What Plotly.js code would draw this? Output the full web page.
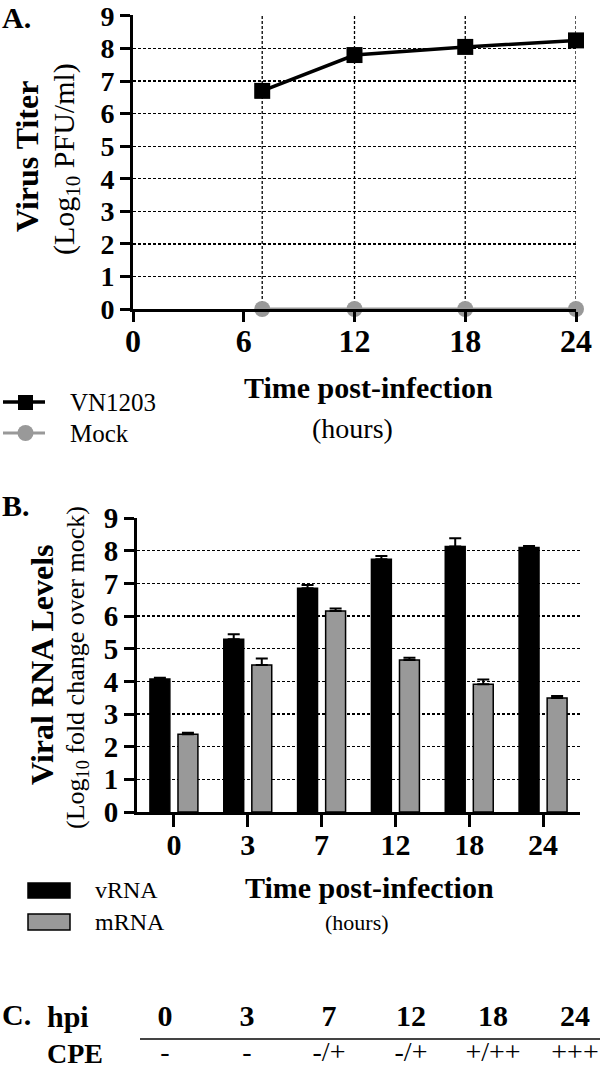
<!DOCTYPE html>
<html>
<head>
<meta charset="utf-8">
<script src="https://cdn.plot.ly/plotly-3.0.1.min.js"></script>
<style>
html,body{margin:0;padding:0;background:#fff;}
#chart{width:600px;height:1072px;}
</style>
</head>
<body>
<div id="chart"></div>
<script>
// ---- Panel A data ----
const hoursA = [7, 12, 18, 24];
const vn1203 = [6.7, 7.8, 8.05, 8.25];
const mock = [0, 0, 0, 0];
const xTicksA = [0, 6, 12, 18, 24];
const yTicks = [0, 1, 2, 3, 4, 5, 6, 7, 8, 9];

// ---- Panel B data ----
const hoursB = ['0', '3', '7', '12', '18', '24'];
const vRNA = [4.07, 5.29, 6.85, 7.74, 8.13, 8.10];
const vRNAerr = [0.04, 0.15, 0.10, 0.10, 0.25, 0.04];
const mRNA = [2.38, 4.50, 6.15, 4.65, 3.91, 3.49];
const mRNAerr = [0.05, 0.20, 0.08, 0.07, 0.15, 0.06];

// ---- Panel C data ----
const hpiLabels = ['0', '3', '7', '12', '18', '24'];
const cpeValues = ['-', '-', '-/+', '-/+', '+/++', '+++'];

const W = 600, H = 1072;
const px = x => x / W;
const py = y => 1 - y / H;
const FONT = 'Liberation Serif';
const GRAY = '#999999';

const traces = [
  {
    x: hoursA, y: vn1203, name: 'VN1203', type: 'scatter', mode: 'lines+markers',
    xaxis: 'x', yaxis: 'y', cliponaxis: false,
    line: {color: '#000', width: 3.5},
    marker: {symbol: 'square', size: 16, color: '#000'},
    showlegend: false
  },
  {
    x: hoursA, y: mock, name: 'Mock', type: 'scatter', mode: 'lines+markers',
    xaxis: 'x', yaxis: 'y', cliponaxis: false,
    line: {color: GRAY, width: 3},
    marker: {symbol: 'circle', size: 16, color: GRAY},
    showlegend: false
  },
  {
    x: hoursB, y: vRNA, name: 'vRNA', type: 'bar', xaxis: 'x2', yaxis: 'y2',
    marker: {color: '#000', line: {color: '#000', width: 1.5}},
    error_y: {type: 'data', symmetric: false, array: vRNAerr, arrayminus: vRNA.map(() => 0),
              color: '#000', thickness: 2, width: 6},
    showlegend: false
  },
  {
    x: hoursB, y: mRNA, name: 'mRNA', type: 'bar', xaxis: 'x2', yaxis: 'y2',
    marker: {color: GRAY, line: {color: '#000', width: 1.5}},
    error_y: {type: 'data', symmetric: false, array: mRNAerr, arrayminus: mRNA.map(() => 0),
              color: '#000', thickness: 2, width: 6},
    showlegend: false
  },
  {
    x: hpiLabels.map((_, i) => i), y: hpiLabels.map(() => 1), text: hpiLabels,
    type: 'scatter', mode: 'text', xaxis: 'x4', yaxis: 'y4', cliponaxis: false,
    textfont: {family: FONT, size: 30, color: '#000', weight: 'bold'},
    showlegend: false, hoverinfo: 'skip'
  },
  {
    x: cpeValues.map((_, i) => i), y: cpeValues.map(() => 0), text: cpeValues,
    type: 'scatter', mode: 'text', xaxis: 'x4', yaxis: 'y4', cliponaxis: false,
    textfont: {family: FONT, size: 28, color: '#000'},
    showlegend: false, hoverinfo: 'skip'
  }
];

const gridStyle = {showgrid: true, gridcolor: '#000', gridwidth: 1.3, griddash: '3px,2px'};
const axisLine = {showline: true, linecolor: '#000', linewidth: 3, ticks: 'outside',
                  tickcolor: '#000', tickwidth: 3, zeroline: false};

// vertical dashed gridlines of panel A sit at the sampled time points
const vGrid = hoursA.map(h => ({
  type: 'line', xref: 'x', yref: 'y', x0: h, x1: h, y0: 0, y1: 9, layer: 'below',
  line: {color: '#000', width: 1.3, dash: '3px,2px'}
}));

// legend keys (drawn as shapes, labelled with the trace names)
const legendKeys = [
  {type: 'line', xref: 'paper', yref: 'paper', x0: px(3), x1: px(45), y0: py(402), y1: py(402),
   line: {color: '#000', width: 3.5}},
  {type: 'rect', xref: 'paper', yref: 'paper', x0: px(18), x1: px(33), y0: py(395), y1: py(410),
   fillcolor: '#000', line: {width: 0}},
  {type: 'line', xref: 'paper', yref: 'paper', x0: px(3), x1: px(45), y0: py(433), y1: py(433),
   line: {color: GRAY, width: 3}},
  {type: 'circle', xref: 'paper', yref: 'paper', x0: px(17.5), x1: px(33.5), y0: py(425), y1: py(441),
   fillcolor: GRAY, line: {width: 0}},
  {type: 'rect', xref: 'paper', yref: 'paper', x0: px(28), x1: px(70), y0: py(883), y1: py(898),
   fillcolor: '#000', line: {color: '#000', width: 1.5}},
  {type: 'rect', xref: 'paper', yref: 'paper', x0: px(28), x1: px(70), y0: py(914), y1: py(930),
   fillcolor: GRAY, line: {color: '#000', width: 1.5}}
];

const layout = {
  width: W, height: H,
  margin: {l: 0, r: 0, t: 0, b: 0},
  paper_bgcolor: '#fff', plot_bgcolor: 'rgba(0,0,0,0)',
  font: {family: FONT, color: '#000'},
  showlegend: false,
  bargap: 0.24, bargroupgap: 0.29, barmode: 'group',
  xaxis: Object.assign({}, axisLine, {
    domain: [px(133), px(576)], anchor: 'y', range: [0, 24],
    tickmode: 'array', tickvals: xTicksA, ticktext: xTicksA.map(String),
    ticklen: 10, showgrid: false, ticklabelstandoff: -8, ticklabeloverflow: 'allow',
    tickfont: {family: FONT, size: 32, weight: 'bold'}
  }),
  yaxis: Object.assign({}, axisLine, gridStyle, {
    domain: [py(309), py(15)], anchor: 'x', range: [0, 9.03],
    tickmode: 'array', tickvals: yTicks, ticklen: 10, ticklabeloverflow: 'allow',
    tickfont: {family: FONT, size: 28, weight: 'bold'}
  }),
  xaxis2: Object.assign({}, axisLine, {
    domain: [px(137), px(580)], anchor: 'y2', type: 'category',
    categoryorder: 'array', categoryarray: hoursB, range: [-0.5, 5.5],
    ticklen: 12, showgrid: false, ticklabelstandoff: -8,
    tickfont: {family: FONT, size: 30, weight: 'bold'}
  }),
  yaxis2: Object.assign({}, axisLine, gridStyle, {
    domain: [py(812), py(518)], anchor: 'x2', range: [0, 9.001],
    tickmode: 'array', tickvals: yTicks, ticklen: 10,
    tickfont: {family: FONT, size: 29, weight: 'bold'}
  }),
  xaxis4: {domain: [px(165), px(575)], anchor: 'y4', range: [0, 5], visible: false},
  yaxis4: {domain: [py(1054), py(1018)], anchor: 'x4', range: [0, 1], visible: false},
  shapes: vGrid.concat(legendKeys, [
    {type: 'line', xref: 'paper', yref: 'paper', x0: px(140), x1: px(600), y0: py(1039), y1: py(1039),
     line: {color: '#444', width: 2}}
  ]),
  annotations: [
    {text: '<b>A.</b>', x: px(0), y: py(18), xanchor: 'left', font: {size: 30}},
    {text: '<b>B.</b>', x: px(0), y: py(506), xanchor: 'left', font: {size: 30}},
    {text: '<b>C.</b>', x: px(0), y: py(1014), xanchor: 'left', font: {size: 30}},
    {text: '<b>Virus Titer</b>', x: px(27), y: py(157), textangle: -90, font: {size: 32}},
    {text: '(Log<sub>10</sub> PFU/ml)', x: px(66), y: py(159), textangle: -90, font: {size: 30}},
    {text: '<b>Time post-infection</b>', x: px(368), y: py(387), font: {size: 30}},
    {text: '(hours)', x: px(352), y: py(428), font: {size: 28}},
    {text: traces[0].name, x: px(68), y: py(402), xanchor: 'left', font: {size: 25}},
    {text: traces[1].name, x: px(68), y: py(433), xanchor: 'left', font: {size: 25}},
    {text: '<b>Viral RNA Levels</b>', x: px(42), y: py(665), textangle: -90, font: {size: 32}},
    {text: '(Log<sub>10</sub> fold change over mock)', x: px(77), y: py(668), textangle: -90, font: {size: 26}},
    {text: '<b>Time post-infection</b>', x: px(369), y: py(887), font: {size: 30}},
    {text: '(hours)', x: px(357), y: py(922), font: {size: 22}},
    {text: traces[2].name, x: px(93), y: py(890), xanchor: 'left', font: {size: 24}},
    {text: traces[3].name, x: px(93), y: py(922), xanchor: 'left', font: {size: 24}},
    {text: '<b>hpi</b>', x: px(45), y: py(1016), xanchor: 'left', font: {size: 30}},
    {text: '<b>CPE</b>', x: px(45), y: py(1053), xanchor: 'left', font: {size: 28}}
  ].map(a => Object.assign({xref: 'paper', yref: 'paper', showarrow: false,
                            xanchor: 'center', yanchor: 'middle'}, a,
                           {font: Object.assign({family: FONT, color: '#000'}, a.font)}))
};

Plotly.newPlot('chart', traces, layout, {staticPlot: true, displayModeBar: false});
</script>
</body>
</html>
